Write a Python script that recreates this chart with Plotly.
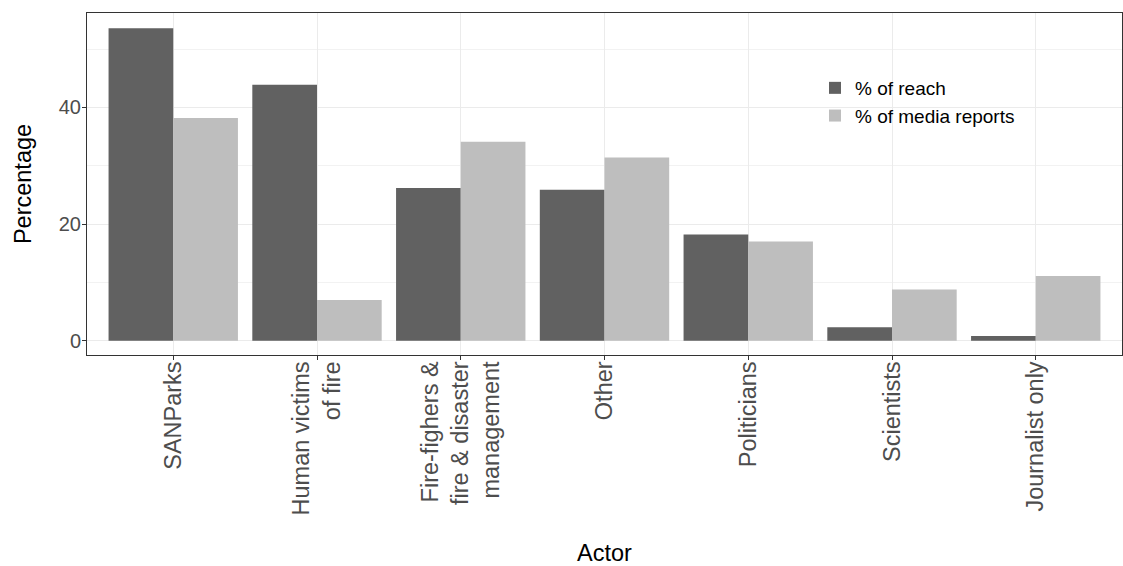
import plotly.graph_objects as go

actors = ["SANParks", "Human victims<br>of fire", "Fire-fighers &<br>fire & disaster<br>management",
          "Other", "Politicians", "Scientists", "Journalist only"]
reach = [53.6, 43.9, 26.2, 25.9, 18.2, 2.3, 0.8]
media = [38.2, 7.0, 34.1, 31.4, 17.0, 8.8, 11.1]
series_names = ["% of reach", "% of media reports"]
colors = ["#616161", "#BEBEBE"]

W, H = 1123, 566
L, R, T, B = 87, 1, 13, 211
pw, ph = W - L - R, H - T - B

fig = go.Figure()
fig.add_trace(go.Bar(x=actors, y=reach, name=series_names[0], marker=dict(color=colors[0], line=dict(width=0))))
fig.add_trace(go.Bar(x=actors, y=media, name=series_names[1], marker=dict(color=colors[1], line=dict(width=0))))

def px_x(p):
    return (p - L) / pw

def px_y(p):
    return (H - B - p) / ph

fig.add_shape(type="rect", xref="paper", yref="paper",
              x0=px_x(828), x1=px_x(1020), y0=px_y(140), y1=px_y(38),
              fillcolor="white", line=dict(width=0), layer="between")

fig.update_layout(
    width=W, height=H,
    margin=dict(l=L, r=R, t=T, b=B),
    plot_bgcolor="white", paper_bgcolor="white",
    barmode="group", bargap=0.1, bargroupgap=0,
    font=dict(family="Liberation Sans, Arial, sans-serif", color="black"),
    showlegend=True,
    legend=dict(x=px_x(815), y=px_y(69), xanchor="left", yanchor="top",
                bgcolor="rgba(0,0,0,0)", font=dict(size=19, color="black"),
                tracegroupgap=0, itemwidth=30),
)
fig.update_xaxes(
    range=[-0.6, 6.6], tickangle=-90,
    tickfont=dict(size=23.5, color="#4D4D4D"),
    ticklabelstandoff=-8,
    showgrid=True, gridcolor="#EBEBEB", gridwidth=1,
    showline=True, linecolor="#333333", linewidth=1, mirror=True,
    ticks="outside", ticklen=4, tickcolor="#333333",
    title=dict(text="Actor", font=dict(size=23.5, color="black"), standoff=36),
    automargin=False,
)
fig.update_yaxes(
    range=[-2.45, 56.2], tickvals=[0, 20, 40],
    tickfont=dict(size=20, color="#4D4D4D"),
    ticklabelstandoff=-3,
    showgrid=True, gridcolor="#EBEBEB", gridwidth=1,
    minor=dict(tickvals=[10, 30, 50], showgrid=True, gridcolor="#F2F2F2", gridwidth=0.6, ticks=""),
    zeroline=False,
    showline=True, linecolor="#333333", linewidth=1, mirror=True,
    ticks="outside", ticklen=4, tickcolor="#333333",
    title=dict(text="Percentage", font=dict(size=23.5, color="black"), standoff=20),
    automargin=False,
)

fig.write_html(
    "out.html",
    config={"responsive": False, "displayModeBar": False},
    post_script="document.body.style.margin='0px';document.body.style.overflow='hidden';",
)
